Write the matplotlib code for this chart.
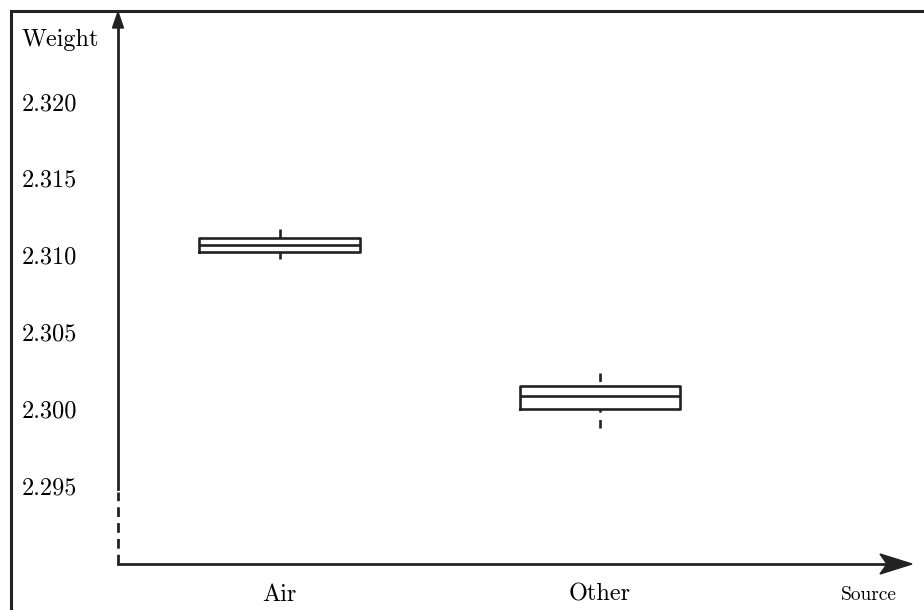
import matplotlib
matplotlib.use('Agg')
import matplotlib.pyplot as plt
from matplotlib.patches import Polygon, Rectangle

# Data
sources = ['Air', 'Other']
q1 = [2.31020, 2.29998]
median = [2.31066, 2.30083]
q3 = [2.31111, 2.30148]
whisker_low = [2.30975, 2.29874]
whisker_high = [2.31170, 2.30232]
yticks = [2.295, 2.300, 2.305, 2.310, 2.315, 2.320]
ytick_labels = ['2.295', '2.300', '2.305', '2.310', '2.315', '2.320']

W, H = 924, 610
plt.rcParams['font.family'] = ['cmr10', 'DejaVu Serif']
plt.rcParams['axes.formatter.use_mathtext'] = True

fig = plt.figure(figsize=(W / 100, H / 100), dpi=100)
ink = '#222222'


def px(x, y):
    # pixel position (from top-left) -> figure fraction
    return (x / W, 1 - y / H)


# outer frame (clipped at right/bottom like the reference)
fig.add_artist(plt.Line2D([10.5 / W, 10.5 / W], [0, 1 - 11 / H], color=ink, lw=2.2,
                          transform=fig.transFigure))
fig.add_artist(plt.Line2D([10.5 / W, 1], [1 - 11 / H, 1 - 11 / H], color=ink, lw=2.2,
                          transform=fig.transFigure))

left, bottom = px(118, 564)
right, top = px(912, 12)
ax = fig.add_axes([left, bottom, right - left, top - bottom])
ax.set_xlim(0.496, 2.973)
ax.set_ylim(2.28989, 2.32583)
for s in ax.spines.values():
    s.set_visible(False)

stats = []
for i, name in enumerate(sources):
    stats.append(dict(label=name, q1=q1[i], med=median[i], q3=q3[i],
                      whislo=whisker_low[i], whishi=whisker_high[i], fliers=[]))

res = ax.bxp(stats, positions=[1, 2], widths=0.5, showcaps=False, showfliers=False,
             boxprops=dict(color=ink, lw=1.9),
             medianprops=dict(color=ink, lw=1.9),
             whiskerprops=dict(color=ink, lw=1.9, linestyle=(0, (3.2, 2.8))))
# whiskers are drawn from their far end toward the box
for ln in res['whiskers']:
    xd, yd = ln.get_data()
    ln.set_data(list(xd)[::-1], list(yd)[::-1])

ax.set_yticks(yticks)
ax.set_yticklabels(ytick_labels)
ax.tick_params(axis='y', length=0, pad=69, labelsize=17.5)
for lab in ax.get_yticklabels():
    lab.set_horizontalalignment('left')
ax.tick_params(axis='x', length=0, pad=14, labelsize=17.5)

# axis lines: solid y axis above the break, dashed below
ytr = ax.get_yaxis_transform()
ax.plot([0, 0], [2.2948, ax.get_ylim()[1] - 0.0008], color=ink, lw=2.0,
        transform=ytr, clip_on=False)
ax.plot([0, 0], [ax.get_ylim()[0], 2.2946], color=ink, lw=2.0,
        linestyle=(0, (3.5, 2.2)), transform=ytr, clip_on=False)
ax.plot([0, 0.97], [0, 0], color=ink, lw=2.0, transform=ax.transAxes, clip_on=False)

# arrow heads
x_tip = [(912, 564), (880, 554), (887, 564), (880, 574)]
y_tip = [(118, 12), (112.5, 28), (123.5, 28)]
for pts in (x_tip, y_tip):
    fig.add_artist(Polygon([px(*p) for p in pts], closed=True, color=ink,
                           transform=fig.transFigure))

fig.text(22 / W, 1 - 40 / H, 'Weight', fontsize=17.5, ha='left', va='center')
fig.text(869 / W, 1 - 595 / H, 'Source', fontsize=14, ha='center', va='center')

fig.savefig('out.png', dpi=100)
